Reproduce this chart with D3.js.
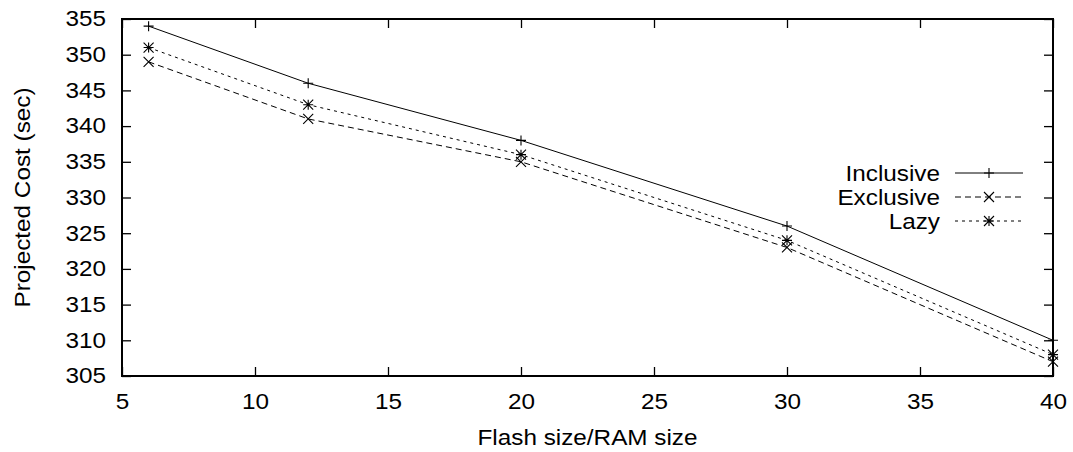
<!DOCTYPE html>
<html>
<head>
<meta charset="utf-8">
<script src="https://cdn.jsdelivr.net/npm/d3@7"></script>
<style>
  html, body { margin: 0; padding: 0; background: #fff; }
  svg { display: block; font-family: "Liberation Sans", Arial, Helvetica, sans-serif; }
</style>
</head>
<body>
<svg id="chart" width="1073" height="452"></svg>
<script>
// Projected cost versus flash/RAM size ratio for three caching policies
const ratios = [6, 12, 20, 30, 40];
const inclusive = [354, 346, 338, 326, 310];
const exclusive = [349, 341, 335, 323, 307];
const lazy = [351, 343, 336, 324, 308];
const xTicks = [5, 10, 15, 20, 25, 30, 35, 40];
const yTicks = [305, 310, 315, 320, 325, 330, 335, 340, 345, 350, 355];

const seriesList = [
  { name: "Inclusive", values: inclusive, dash: null, marker: "plus" },
  { name: "Exclusive", values: exclusive, dash: "6,4", marker: "cross" },
  { name: "Lazy", values: lazy, dash: "3,4", marker: "star" }
];

const svg = d3.select("#chart");
const margin = { left: 122, right: 20, top: 19, bottom: 76 };
const W = 1073, H = 452;
const x = d3.scaleLinear().domain([5, 40]).range([margin.left, W - margin.right]);
const y = d3.scaleLinear().domain([305, 355]).range([H - margin.bottom, margin.top]);

const tickLen = 9;
const fontSize = 21.5;
const widen = 1.13;   // slightly wide lettering
const fontFamily = "'Liberation Sans', Arial, sans-serif";

// Re-place a text element so that it is widened about its anchor point
function widenText(t) {
  const tx = +t.attr("x") || 0, ty = +t.attr("y") || 0;
  t.attr("x", 0).attr("y", 0)
   .attr("transform", `translate(${tx},${ty}) scale(${widen},1)`);
}

// Axes with mirrored inner ticks
const gx = svg.append("g").attr("transform", `translate(0,${y(305)})`)
  .call(d3.axisBottom(x).tickValues(xTicks).tickSizeInner(-tickLen).tickSizeOuter(0).tickPadding(18));
const gxTop = svg.append("g").attr("transform", `translate(0,${y(355)})`)
  .call(d3.axisTop(x).tickValues(xTicks).tickSizeInner(-tickLen).tickSizeOuter(0).tickFormat(""));
const gy = svg.append("g").attr("transform", `translate(${x(5)},0)`)
  .call(d3.axisLeft(y).tickValues(yTicks).tickSizeInner(-tickLen).tickSizeOuter(0).tickPadding(16));
const gyRight = svg.append("g").attr("transform", `translate(${x(40)},0)`)
  .call(d3.axisRight(y).tickValues(yTicks).tickSizeInner(-tickLen).tickSizeOuter(0).tickFormat(""));

[gx, gxTop, gy, gyRight].forEach(g => {
  g.select(".domain").remove();
  g.selectAll(".tick line").attr("stroke", "#000").attr("stroke-width", 1.3);
  g.selectAll(".tick text").attr("fill", "#000").style("font-size", fontSize + "px")
    .style("font-family", fontFamily)
    .each(function () { widenText(d3.select(this)); });
});
gx.selectAll(".tick text").attr("dy", "0.71em");

// Plot frame
svg.append("rect")
  .attr("x", x(5)).attr("y", y(355))
  .attr("width", x(40) - x(5)).attr("height", y(305) - y(355))
  .attr("fill", "none").attr("stroke", "#000").attr("stroke-width", 2);

// Marker drawing
function drawMarker(g, kind, cx, cy) {
  const s = 5;
  const p = d3.path();
  if (kind === "plus" || kind === "star") {
    p.moveTo(cx - s, cy); p.lineTo(cx + s, cy);
    p.moveTo(cx, cy - s); p.lineTo(cx, cy + s);
  }
  if (kind === "cross" || kind === "star") {
    p.moveTo(cx - s, cy - s); p.lineTo(cx + s, cy + s);
    p.moveTo(cx - s, cy + s); p.lineTo(cx + s, cy - s);
  }
  g.append("path").attr("d", p.toString())
    .attr("stroke", "#000").attr("stroke-width", 1.1).attr("fill", "none");
}

const line = d3.line().x(d => x(d[0])).y(d => y(d[1]));

seriesList.forEach(s => {
  const pts = ratios.map((r, i) => [r, s.values[i]]);
  svg.append("path").datum(pts)
    .attr("d", line)
    .attr("fill", "none").attr("stroke", "#000").attr("stroke-width", 1)
    .attr("stroke-dasharray", s.dash);
  const mg = svg.append("g");
  pts.forEach(p => drawMarker(mg, s.marker, x(p[0]), y(p[1])));
});

// Legend
const legX = 940, legY0 = 173, legStep = 24;
seriesList.forEach((s, i) => {
  const ly = legY0 + i * legStep;
  svg.append("text")
    .attr("transform", `translate(${legX},${ly}) scale(${widen},1)`)
    .attr("dy", "0.35em")
    .attr("text-anchor", "end").style("font-size", fontSize + "px").text(s.name);
  svg.append("line").attr("x1", 955).attr("x2", 1023).attr("y1", ly).attr("y2", ly)
    .attr("stroke", "#000").attr("stroke-width", 1).attr("stroke-dasharray", s.dash);
  drawMarker(svg, s.marker, 989, ly);
});

// Axis titles
svg.append("text")
  .attr("transform", `translate(${(x(5) + x(40)) / 2},445) scale(${widen},1)`)
  .attr("text-anchor", "middle").style("font-size", fontSize + "px")
  .text("Flash size/RAM size");
svg.append("text")
  .attr("transform", `translate(30,${(y(305) + y(355)) / 2}) rotate(-90) scale(${widen},1)`)
  .attr("text-anchor", "middle").style("font-size", fontSize + "px")
  .text("Projected Cost (sec)");
</script>
</body>
</html>
